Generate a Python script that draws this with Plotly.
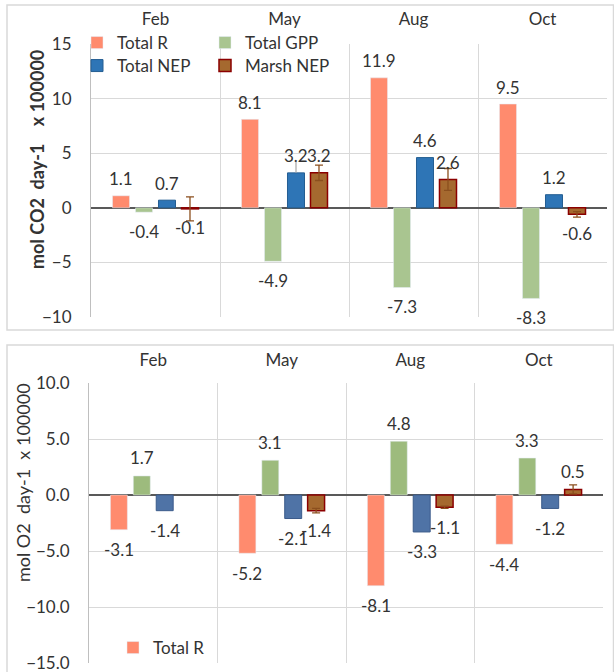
import plotly.graph_objects as go

months = ["Feb", "May", "Aug", "Oct"]

# CO2 fluxes, mol CO2 day-1 (x 100000)
co2_total_r = [1.1, 8.1, 11.9, 9.5]
co2_total_gpp = [-0.4, -4.9, -7.3, -8.3]
co2_total_nep = [0.7, 3.2, 4.6, 1.2]
co2_marsh_nep = [-0.1, 3.2, 2.6, -0.6]
co2_total_nep_err = [0.0, 1.0, 0.0, 0.0]
co2_marsh_nep_err = [1.1, 0.7, 1.0, 0.25]

# O2 fluxes, mol O2 day-1 (x 100000)
o2_total_r = [-3.1, -5.2, -8.1, -4.4]
o2_total_gpp = [1.7, 3.1, 4.8, 3.3]
o2_total_nep = [-1.4, -2.1, -3.3, -1.2]
o2_marsh_nep = [None, -1.4, -1.1, 0.5]
o2_marsh_nep_err = [0.0, 0.2, 0.1, 0.4]

W, H = 614, 672
FONT = "Lato"
TXT = "#333333"
GRID = "#D9D9D9"
BARGAP = 0.287
GROUPGAP = 0.26
FS = 17

R_COL = "#FF8B6E"
GPP_COL = "#A9C590"
NEP_COL = "#2E75B6"
NEP_COL2 = "#4F73A6"
MARSH_FILL = "#A5692F"
MARSH_LINE = "#8B0000"
ERR_COL = "#8B4F1E"


def px_x(p):
    return p / W


def px_y(p):
    return 1 - p / H


fig = go.Figure()

# ---- upper panel: CO2 ----
fig.add_trace(go.Bar(name="Total R", x=months, y=co2_total_r, marker=dict(color=R_COL),
                     xaxis="x", yaxis="y", legend="legend"))
fig.add_trace(go.Bar(name="Total GPP", x=months, y=co2_total_gpp, marker=dict(color=GPP_COL),
                     xaxis="x", yaxis="y", legend="legend"))
fig.add_trace(go.Bar(name="Total NEP", x=months, y=co2_total_nep,
                     marker=dict(color=NEP_COL, line=dict(color="#245E92", width=1)),
                     error_y=dict(type="data", symmetric=False, array=co2_total_nep_err,
                                  arrayminus=[0] * 4, color="#A6A6A6", thickness=1.2, width=0),
                     xaxis="x", yaxis="y", legend="legend3"))
fig.add_trace(go.Bar(name="Marsh NEP", x=months, y=co2_marsh_nep,
                     marker=dict(color=MARSH_FILL, line=dict(color=MARSH_LINE, width=1.5)),
                     error_y=dict(type="data", array=co2_marsh_nep_err, color=ERR_COL,
                                  thickness=1.3, width=4),
                     xaxis="x", yaxis="y", legend="legend3"))

# ---- lower panel: O2 ----
fig.add_trace(go.Bar(name="Total R", x=months, y=o2_total_r, marker=dict(color=R_COL),
                     xaxis="x2", yaxis="y2", legend="legend2"))
fig.add_trace(go.Bar(name="Total GPP", x=months, y=o2_total_gpp, marker=dict(color="#9DBB7D"),
                     xaxis="x2", yaxis="y2", showlegend=False))
fig.add_trace(go.Bar(name="Total NEP", x=months, y=o2_total_nep,
                     marker=dict(color=NEP_COL2, line=dict(color="#3A5A8A", width=1)),
                     xaxis="x2", yaxis="y2", showlegend=False))
fig.add_trace(go.Bar(name="Marsh NEP", x=months, y=o2_marsh_nep,
                     marker=dict(color=MARSH_FILL, line=dict(color=MARSH_LINE, width=1.5)),
                     error_y=dict(type="data", array=o2_marsh_nep_err, color=ERR_COL,
                                  thickness=1.3, width=4),
                     xaxis="x2", yaxis="y2", showlegend=False))


# value labels above / below each bar
def value_labels(series_list, xref, yref, up, down):
    anns = []
    slot = (1 - BARGAP) / len(series_list)
    for i, vals in enumerate(series_list):
        for k, v in enumerate(vals):
            if v is None:
                continue
            anns.append(dict(
                x=k + (i - (len(series_list) - 1) / 2) * slot, y=v,
                xref=xref, yref=yref, text=f"{v:.1f}", showarrow=False,
                yanchor="middle", xanchor="center",
                yshift=up if v >= 0 else -down,
                font=dict(family=FONT, size=FS, color=TXT)))
    return anns


annotations = []
annotations += value_labels([co2_total_r, co2_total_gpp, co2_total_nep, co2_marsh_nep],
                            "x", "y", 17, 19)
annotations += value_labels([o2_total_r, o2_total_gpp, o2_total_nep, o2_marsh_nep],
                            "x2", "y2", 18, 20)

nb = "\u00a0"
annotations.append(dict(
    text=f"<b>mol CO2{nb}{nb}day-1{nb}{nb}{nb}{nb}x 100000</b>", textangle=-90,
    x=px_x(37), y=px_y(160), xref="paper", yref="paper", showarrow=False,
    xanchor="center", yanchor="middle", font=dict(family=FONT, size=18, color=TXT)))
annotations.append(dict(
    text=f"mol O2{nb}{nb}day-1{nb}{nb}x 100000", textangle=-90,
    x=px_x(23), y=px_y(483), xref="paper", yref="paper", showarrow=False,
    xanchor="center", yanchor="middle", font=dict(family=FONT, size=18, color=TXT)))

xcommon = dict(type="category", categoryorder="array", categoryarray=months,
               side="top", tickson="boundaries", showgrid=True, gridcolor=GRID,
               gridwidth=1, ticks="", showline=False, range=[-0.5, 3.5], automargin=False,
               ticklabeloverflow="allow",
               tickfont=dict(family=FONT, size=FS, color=TXT))
ycommon = dict(dtick=5, tick0=0, showgrid=True, gridcolor=GRID, gridwidth=1,
               zeroline=True, zerolinecolor="#595959", zerolinewidth=1.5,
               showline=True, linecolor="#BFBFBF", linewidth=1, ticks="", automargin=False,
               ticklabeloverflow="allow",
               ticklabelstandoff=15, tickfont=dict(family=FONT, size=FS, color=TXT))

legend_common = dict(orientation="h", xanchor="left", yanchor="middle",
                     bgcolor="rgba(0,0,0,0)", font=dict(family=FONT, size=FS, color=TXT),
                     entrywidthmode="pixels", entrywidth=83, itemclick=False)

fig.update_layout(
    width=W, height=H, margin=dict(l=0, r=0, t=0, b=0, autoexpand=False),
    paper_bgcolor="white", plot_bgcolor="white",
    barmode="group", bargap=BARGAP, bargroupgap=GROUPGAP,
    xaxis=dict(xcommon, domain=[px_x(91), px_x(607)], anchor="y", ticklabelstandoff=15),
    yaxis=dict(ycommon, domain=[px_y(317), px_y(44)], range=[-10, 15], anchor="x"),
    xaxis2=dict(xcommon, domain=[px_x(89), px_x(603)], anchor="y2", ticklabelstandoff=13),
    yaxis2=dict(ycommon, domain=[px_y(663), px_y(383)], range=[-15, 10], anchor="x2",
                tickformat=".1f"),
    legend=dict(legend_common, x=px_x(77), y=px_y(43)),
    legend3=dict(legend_common, x=px_x(77), y=px_y(66)),
    legend2=dict(legend_common, x=px_x(113), y=px_y(648)),
    annotations=annotations,
    shapes=[
        dict(type="rect", xref="paper", yref="paper", layer="below",
             x0=px_x(7), x1=px_x(613.5), y0=px_y(330), y1=px_y(5),
             line=dict(color=GRID, width=1.5), fillcolor="white"),
        dict(type="rect", xref="paper", yref="paper", layer="below",
             x0=px_x(7), x1=px_x(613.5), y0=px_y(680), y1=px_y(345),
             line=dict(color=GRID, width=1.5), fillcolor="white"),
    ],
    showlegend=True,
)

fig.write_html("out.html")
